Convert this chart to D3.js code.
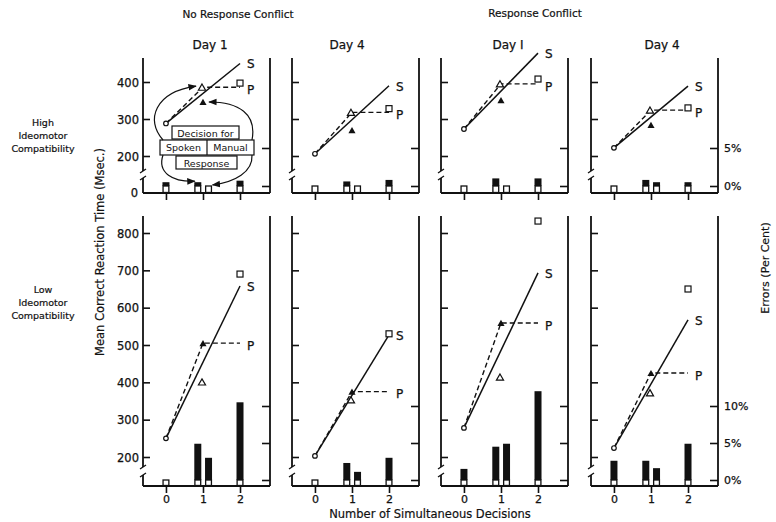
<!DOCTYPE html>
<html><head><meta charset="utf-8">
<script src="https://cdn.jsdelivr.net/npm/d3@7"></script>
<style>
body{margin:0;background:#fff}
svg{display:block}
text{font-family:"DejaVu Sans",sans-serif;fill:#111}
</style>
</head><body>
<svg id="chart" width="776" height="522"></svg>
<script>
// ---------- data ----------
const groupLabels = ["No Response Conflict", "Response Conflict"];
const dayLabels = ["Day 1", "Day 4", "Day I", "Day 4"];
const rowLabels = [["High", "Ideomotor", "Compatibility"], ["Low", "Ideomotor", "Compatibility"]];
const decisions = [0, 1, 2];
const xTickLabels = ["0", "1", "2"];
const rtTicksHigh = [200, 300, 400];
const rtTicksLow = [200, 300, 400, 500, 600, 700, 800];
const errTicksHigh = [0, 5];
const errTicksLow = [0, 5, 10];
const errTickLabelsHigh = ["0%", "5%"];
const errTickLabelsLow = ["0%", "5%", "10%"];

// High ideomotor compatibility (panels: NoConflict D1, D4, Conflict D1, D4)
const rtZeroHigh      = [288, 206, 273, 222];   // open circle, 0 decisions
const spokenTwoHigh   = [450, 390, 478, 389];   // S line end, 2 decisions
const manualOneHigh   = [386, 318, 395, 324];   // P dashed, 1 decision
const openTriHigh     = [386, 318, 395, 324];
const filledTriHigh   = [346, 270, 351, 284];
const openSqHigh      = [397, 328, 408, 330];
// Low ideomotor compatibility
const rtZeroLow       = [250, 203, 278, 224];
const spokenTwoLow    = [658, 527, 693, 567];
const manualOneLow    = [505, 375, 559, 425];
const openTriLow      = [401, 353, 414, 372];
const filledTriLow    = [505, 375, 559, 425];
const openSqLow       = [690, 530, 832, 650];

// error bars (per cent): positions along the decisions axis
const errPositions = [0, 0.86, 1.15, 2];
const errHigh = [[0.5, 0.5, 0, 0.7], [0, 0.6, 0, 0.8], [0, 1.0, 0, 1.0], [0, 0.8, 0.5, 0.5]];
const errLow  = [[0, 4.9, 3.0, 10.5], [0, 2.3, 1.1, 3.0], [1.5, 4.5, 4.9, 12.0], [2.6, 2.6, 1.6, 4.9]];

// ---------- layout ----------
const svg = d3.select("#chart");
const panelLefts = [143, 292, 441, 591];
const panelW = 127;
const rows = [
  {top: 58, base: 193, rtDom: [200, 400], rtRange: [156, 82], errDom: [0, 5], errRange: [186, 148],
   breakY: [171, 178], rtTicks: rtTicksHigh, errTicks: errTicksHigh, errLabels: errTickLabelsHigh,
   zero: rtZeroHigh, s2: spokenTwoHigh, p1: manualOneHigh, oTri: openTriHigh, fTri: filledTriHigh, sq: openSqHigh, err: errHigh},
  {top: 216, base: 486, rtDom: [200, 800], rtRange: [457, 233], errDom: [0, 10], errRange: [480, 406],
   breakY: [467, 475], rtTicks: rtTicksLow, errTicks: errTicksLow, errLabels: errTickLabelsLow,
   zero: rtZeroLow, s2: spokenTwoLow, p1: manualOneLow, oTri: openTriLow, fTri: filledTriLow, sq: openSqLow, err: errLow}
];

const defs = svg.append("defs");
defs.append("marker").attr("id", "arr").attr("viewBox", "0 0 10 10").attr("refX", 9).attr("refY", 5)
  .attr("markerWidth", 7).attr("markerHeight", 7).attr("orient", "auto")
  .append("path").attr("d", "M0,1 L10,5 L0,9 Z").attr("fill", "#111");

const ink = "#111";
const tri = d3.symbol().type(d3.symbolTriangle).size(22);

rows.forEach((row, r) => {
  const y = d3.scaleLinear().domain(row.rtDom).range(row.rtRange);
  const e = d3.scaleLinear().domain(row.errDom).range(row.errRange);
  panelLefts.forEach((left, i) => {
    const right = left + panelW;
    const x = d3.scaleLinear().domain([-0.62, 2.81]).range([left, right]);
    const g = svg.append("g");

    // frame: left axis with break, right axis, baseline
    g.append("line").attr("x1", left).attr("x2", left).attr("y1", row.top).attr("y2", row.breakY[0])
      .attr("stroke", ink).attr("stroke-width", 1.8);
    g.append("line").attr("x1", left).attr("x2", left).attr("y1", row.breakY[1]).attr("y2", row.base)
      .attr("stroke", ink).attr("stroke-width", 1.8);
    row.breakY.forEach(by => g.append("line").attr("x1", left - 3).attr("x2", left + 3)
      .attr("y1", by + 2).attr("y2", by - 2).attr("stroke", ink).attr("stroke-width", 1.4));
    g.append("line").attr("x1", right).attr("x2", right).attr("y1", row.top).attr("y2", row.base)
      .attr("stroke", ink).attr("stroke-width", 1.8);
    g.append("line").attr("x1", left).attr("x2", right).attr("y1", row.base).attr("y2", row.base)
      .attr("stroke", ink).attr("stroke-width", 1.8);

    // left RT axis (ticks inside)
    const yAxis = d3.axisLeft(y).tickValues(row.rtTicks).tickSize(-7)
      .tickFormat(i === 0 ? d3.format("d") : () => "").tickPadding(4);
    const ya = g.append("g").attr("transform", `translate(${left},0)`).call(yAxis);
    ya.select(".domain").remove();
    ya.selectAll("line").attr("stroke", ink).attr("stroke-width", 1.6);
    ya.selectAll("text").attr("font-size", 11.5).attr("font-family", "DejaVu Sans").attr("fill", ink)
      .attr("x", -4).attr("dy", "0.35em").attr("stroke", ink).attr("stroke-width", 0.25);
    if (r === 0 && i === 0) {
      g.append("text").attr("x", left - 5).attr("y", row.base).attr("dy", "0.35em")
        .attr("text-anchor", "end").attr("font-size", 11.5).attr("stroke", ink).attr("stroke-width", 0.25).text("0");
    }

    // right error axis (ticks inside)
    const eAxis = d3.axisRight(e).tickValues(row.errTicks).tickSize(-8)
      .tickFormat(i === 3 ? (d, k) => row.errLabels[k] : () => "").tickPadding(5);
    const ea = g.append("g").attr("transform", `translate(${right},0)`).call(eAxis);
    ea.select(".domain").remove();
    ea.selectAll("line").attr("stroke", ink).attr("stroke-width", 1.6);
    ea.selectAll("text").attr("font-size", 11).attr("font-family", "DejaVu Sans").attr("fill", ink)
      .attr("x", 6).attr("text-anchor", "start").attr("stroke", ink).attr("stroke-width", 0.25);

    // x axis ticks below baseline
    const xAxis = d3.axisBottom(x).tickValues(decisions).tickSize(7)
      .tickFormat(r === 1 ? (d, k) => xTickLabels[k] : () => "").tickPadding(2);
    const xa = g.append("g").attr("transform", `translate(0,${row.base})`).call(xAxis);
    xa.select(".domain").remove();
    xa.selectAll("line").attr("stroke", ink).attr("stroke-width", 1.6);
    xa.selectAll("text").attr("font-size", 11).attr("font-family", "DejaVu Sans").attr("fill", ink)
      .attr("stroke", ink).attr("stroke-width", 0.25);

    // error bars
    const bw = 7;
    row.err[i].forEach((v, k) => {
      const cx = x(errPositions[k]);
      if (v > 0) {
        g.append("rect").attr("x", cx - bw / 2).attr("width", bw)
          .attr("y", e(v)).attr("height", e(0) - e(v)).attr("fill", ink);
      }
      g.append("rect").attr("x", cx - bw / 2 + 0.6).attr("width", bw - 1.2)
        .attr("y", e(0)).attr("height", row.base - e(0) - 0.5)
        .attr("fill", "#fff").attr("stroke", ink).attr("stroke-width", 1.3);
    });

    // S line (solid) and P line (dashed)
    const line = d3.line().x(d => x(d[0])).y(d => y(d[1]));
    g.append("path").attr("d", line([[0, row.zero[i]], [2, row.s2[i]]]))
      .attr("fill", "none").attr("stroke", ink).attr("stroke-width", 1.5);
    g.append("path").attr("d", line([[0, row.zero[i]], [1, row.p1[i]], [2, row.p1[i]]]))
      .attr("fill", "none").attr("stroke", ink).attr("stroke-width", 1.4).attr("stroke-dasharray", "5,3");

    // markers
    g.append("circle").attr("cx", x(0)).attr("cy", y(row.zero[i])).attr("r", 2.3)
      .attr("fill", "#fff").attr("stroke", ink).attr("stroke-width", 1.2);
    g.append("path").attr("d", tri).attr("transform", `translate(${x(1) - 1},${y(row.oTri[i]) + 1})`)
      .attr("fill", "#fff").attr("stroke", ink).attr("stroke-width", 1.2);
    g.append("path").attr("d", tri).attr("transform", `translate(${x(1)},${y(row.fTri[i]) + 1})`)
      .attr("fill", ink);
    g.append("rect").attr("x", x(2) - 3).attr("y", y(row.sq[i]) - 3).attr("width", 6).attr("height", 6)
      .attr("fill", "#fff").attr("stroke", ink).attr("stroke-width", 1.2);

    // series labels
    g.append("text").attr("x", x(2) + 7).attr("y", y(row.s2[i])).attr("dy", "0.4em")
      .attr("font-size", 12).attr("stroke", ink).attr("stroke-width", 0.25).text("S");
    g.append("text").attr("x", x(2) + 7).attr("y", y(row.p1[i]) + 2).attr("dy", "0.4em")
      .attr("font-size", 12).attr("stroke", ink).attr("stroke-width", 0.25).text("P");

    // day titles
    if (r === 0) {
      g.append("text").attr("x", left + [67, 55, 67, 71][i]).attr("y", 49).attr("text-anchor", "middle")
        .attr("font-size", 12).attr("stroke", ink).attr("stroke-width", 0.25).text(dayLabels[i]);
    }

    // annotation diagram (first panel)
    if (r === 0 && i === 0) {
      const a = svg.append("g");
      const bx = (dx) => left + dx, by = (dy) => row.top + dy;
      a.append("rect").attr("x", bx(29)).attr("y", by(68)).attr("width", 67).attr("height", 13)
        .attr("fill", "#fff").attr("stroke", ink).attr("stroke-width", 1.2);
      a.append("rect").attr("x", bx(17)).attr("y", by(82)).attr("width", 94).attr("height", 15)
        .attr("fill", "#fff").attr("stroke", ink).attr("stroke-width", 1.2);
      a.append("line").attr("x1", bx(64)).attr("x2", bx(64)).attr("y1", by(82)).attr("y2", by(97))
        .attr("stroke", ink).attr("stroke-width", 1.2);
      a.append("rect").attr("x", bx(33)).attr("y", by(98)).attr("width", 61).attr("height", 13)
        .attr("fill", "#fff").attr("stroke", ink).attr("stroke-width", 1.2);
      a.append("text").attr("x", bx(62.5)).attr("y", by(78.5)).attr("text-anchor", "middle").attr("font-size", 9.5).text("Decision for");
      a.append("text").attr("x", bx(40.5)).attr("y", by(93)).attr("text-anchor", "middle").attr("font-size", 9.5).text("Spoken");
      a.append("text").attr("x", bx(87.5)).attr("y", by(93)).attr("text-anchor", "middle").attr("font-size", 9.5).text("Manual");
      a.append("text").attr("x", bx(63.5)).attr("y", by(108.5)).attr("text-anchor", "middle").attr("font-size", 9.5).text("Response");
      const arrows = [
        `M${bx(20)},${by(82)} C${bx(2)},${by(62)} ${bx(12)},${by(34)} ${x(1) - 7},${y(row.oTri[i]) - 1}`,
        `M${bx(109)},${by(82)} C${bx(114)},${by(56)} ${bx(96)},${by(44)} ${x(1) + 6},${y(row.fTri[i])}`,
        `M${bx(20)},${by(97)} C${bx(14)},${by(115)} ${bx(30)},${by(124)} ${x(errPositions[1]) - 3},${e(0.5) - 1}`,
        `M${bx(109)},${by(97)} C${bx(110)},${by(114)} ${bx(92)},${by(124)} ${x(errPositions[2]) + 4},${e(0) - 1}`
      ];
      arrows.forEach(d => a.append("path").attr("d", d).attr("fill", "none").attr("stroke", ink)
        .attr("stroke-width", 1.2).attr("marker-end", "url(#arr)"));
    }
  });
});

// group headers
svg.append("text").attr("x", 238).attr("y", 18).attr("text-anchor", "middle").attr("font-size", 10.5).attr("stroke", ink).attr("stroke-width", 0.2).text(groupLabels[0]);
svg.append("text").attr("x", 535).attr("y", 17).attr("text-anchor", "middle").attr("font-size", 10.5).attr("stroke", ink).attr("stroke-width", 0.2).text(groupLabels[1]);

// row labels
[[126, 139, 152], [293, 306, 319]].forEach((ys, r) => {
  rowLabels[r].forEach((t, k) => svg.append("text").attr("x", 43).attr("y", ys[k]).attr("text-anchor", "middle")
    .attr("font-size", 9.5).attr("stroke", ink).attr("stroke-width", 0.2).text(t));
});

// axis titles
svg.append("text").attr("transform", "translate(104,252) rotate(-90)").attr("text-anchor", "middle")
  .attr("font-size", 11.5).attr("stroke", ink).attr("stroke-width", 0.2).text("Mean Correct Reaction Time (Msec.)");
svg.append("text").attr("transform", "translate(769,268) rotate(-90)").attr("text-anchor", "middle")
  .attr("font-size", 11).attr("stroke", ink).attr("stroke-width", 0.2).text("Errors (Per Cent)");
svg.append("text").attr("x", 430).attr("y", 518).attr("text-anchor", "middle")
  .attr("font-size", 11.5).attr("stroke", ink).attr("stroke-width", 0.2).text("Number of Simultaneous Decisions");
</script>
</body></html>
